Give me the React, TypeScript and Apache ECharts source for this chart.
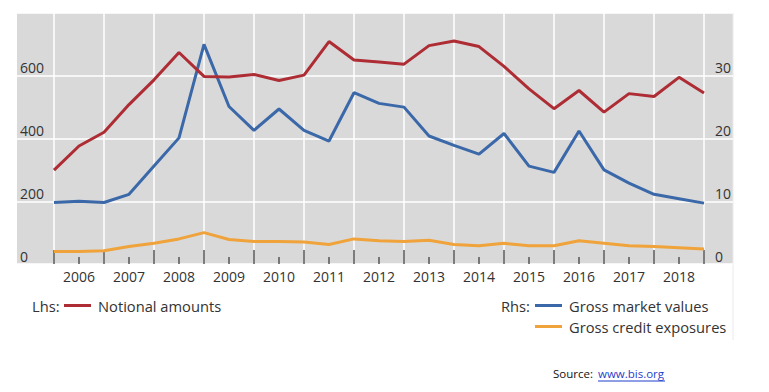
import React, { useEffect, useRef } from "react";
import * as echarts from "echarts";

const periods = [
  "2005-12", "2006-06", "2006-12", "2007-06", "2007-12", "2008-06", "2008-12",
  "2009-06", "2009-12", "2010-06", "2010-12", "2011-06", "2011-12", "2012-06",
  "2012-12", "2013-06", "2013-12", "2014-06", "2014-12", "2015-06", "2015-12",
  "2016-06", "2016-12", "2017-06", "2017-12", "2018-06", "2018-12",
];

// Lhs: notional amounts
const notionalAmounts = [
  299, 376, 420, 508, 587, 674, 598, 596, 604, 585, 602, 709, 650, 644, 637,
  696, 711, 693, 630, 558, 495, 553, 484, 543, 534, 595, 545,
];

// Rhs: gross market values
const grossMarketValues = [
  9.8, 10.0, 9.8, 11.1, 15.6, 20.1, 35.0, 25.1, 21.3, 24.7, 21.3, 19.6, 27.3,
  25.6, 25.0, 20.4, 18.9, 17.5, 20.8, 15.6, 14.6, 21.2, 15.0, 12.9, 11.1, 10.4, 9.7,
];

// Rhs: gross credit exposures
const grossCreditExposures = [
  2.0, 2.0, 2.1, 2.8, 3.3, 4.0, 5.0, 3.9, 3.6, 3.6, 3.5, 3.1, 4.0, 3.7, 3.6,
  3.8, 3.1, 2.9, 3.3, 2.9, 2.9, 3.7, 3.3, 2.9, 2.8, 2.6, 2.4,
];

const lhsTicks = { min: 0, max: 800, interval: 200 };
const rhsTicks = { min: 0, max: 40, interval: 10 };

const FONT = "'Open Sans', sans-serif";
const TEXT = "#333333";
const RED = "#AE2D35";
const BLUE = "#3A68A8";
const ORANGE = "#EFA33A";
const LEGEND_FS = 14.7;

export default function App() {
  const ref = useRef<HTMLDivElement>(null);

  useEffect(() => {
    if (!ref.current) return;
    const chart = echarts.init(ref.current, undefined, { renderer: "svg" });
    const option: any = {
      animation: false,
      textStyle: { fontFamily: FONT },
      grid: [
        { left: 54, right: 65, top: 13, bottom: 128 },
        {
          left: 17, right: 36, top: 13, bottom: 128,
          show: true, backgroundColor: "#D9D9D9", borderWidth: 0, z: -1,
        },
      ],
      xAxis: [
        {
          type: "category",
          gridIndex: 0,
          data: periods,
          boundaryGap: false,
          axisLine: { show: false },
          axisTick: {
            show: true, inside: true, length: 14,
            interval: (i: number) => i % 2 === 0,
            lineStyle: { color: "#555", width: 1.5 },
          },
          axisLabel: {
            interval: (i: number) => i % 2 === 1,
            formatter: (v: string) => v.slice(0, 4),
            color: TEXT, fontSize: 14, fontFamily: FONT, margin: 5,
          },
          splitLine: {
            show: true,
            interval: (i: number) => i % 2 === 0,
            lineStyle: { color: "#FFFFFF", width: 1.5 },
          },
        },
        {
          type: "category",
          gridIndex: 0,
          data: periods,
          boundaryGap: false,
          position: "bottom",
          axisLine: { show: false },
          axisTick: {
            show: true, inside: true, length: 7,
            interval: (i: number) => i % 2 === 1,
            lineStyle: { color: "#555", width: 1.5 },
          },
          axisLabel: { show: false },
          splitLine: { show: false },
        },
        { type: "value", gridIndex: 1, show: false, min: 0, max: 1 },
      ],
      yAxis: [
        {
          type: "value",
          gridIndex: 0,
          position: "left",
          ...lhsTicks,
          axisLine: { show: false },
          axisTick: { show: false },
          splitLine: { show: false },
          axisLabel: {
            showMaxLabel: false,
            align: "left",
            verticalAlign: "bottom",
            margin: 34,
            padding: [0, 0, 1, 0],
            color: TEXT, fontSize: 14, fontFamily: FONT,
          },
        },
        {
          type: "value",
          gridIndex: 0,
          position: "right",
          ...rhsTicks,
          axisLine: { show: false },
          axisTick: { show: false },
          splitLine: { show: false },
          axisLabel: {
            showMaxLabel: false,
            align: "left",
            verticalAlign: "bottom",
            margin: 11,
            padding: [0, 0, 1, 0],
            color: TEXT, fontSize: 14, fontFamily: FONT,
          },
        },
        {
          type: "value",
          gridIndex: 1,
          ...lhsTicks,
          axisLine: { show: false },
          axisTick: { show: false },
          axisLabel: { show: false },
          splitLine: { show: true, lineStyle: { color: "#FFFFFF", width: 1.5 } },
        },
      ],
      legend: [
        {
          data: ["Notional amounts"],
          left: 64, top: 297, padding: 0,
          icon: "rect", itemWidth: 27, itemHeight: 3,
          textStyle: {
            color: TEXT, fontSize: LEGEND_FS, fontFamily: FONT, lineHeight: 17,
            padding: [0, 0, 0, 2],
          },
        },
        {
          data: ["Gross market values", "Gross credit exposures"],
          orient: "vertical",
          left: 535, top: 297, itemGap: 4, padding: 0,
          icon: "rect", itemWidth: 27, itemHeight: 3,
          textStyle: {
            color: TEXT, fontSize: LEGEND_FS, fontFamily: FONT, lineHeight: 17,
            padding: [0, 0, 0, 2],
          },
        },
      ],
      series: [
        {
          name: "Gross credit exposures", type: "line",
          xAxisIndex: 0, yAxisIndex: 1, data: grossCreditExposures,
          symbol: "none", lineStyle: { color: ORANGE, width: 3 }, itemStyle: { color: ORANGE },
        },
        {
          name: "Gross market values", type: "line",
          xAxisIndex: 0, yAxisIndex: 1, data: grossMarketValues,
          symbol: "none", lineStyle: { color: BLUE, width: 3 }, itemStyle: { color: BLUE },
        },
        {
          name: "Notional amounts", type: "line",
          xAxisIndex: 0, yAxisIndex: 0, data: notionalAmounts,
          symbol: "none", lineStyle: { color: RED, width: 3 }, itemStyle: { color: RED },
        },
      ],
      graphic: [
        {
          type: "line", silent: true,
          shape: { x1: 733, y1: 13, x2: 733, y2: 340 },
          style: { stroke: "#EAEAEA", lineWidth: 1 },
        },
        {
          type: "text", x: 32, y: 306,
          style: { text: "Lhs:", fill: TEXT, font: `${LEGEND_FS}px ${FONT}`, verticalAlign: "middle" },
        },
        {
          type: "text", x: 501, y: 306,
          style: { text: "Rhs:", fill: TEXT, font: `${LEGEND_FS}px ${FONT}`, verticalAlign: "middle" },
        },
        {
          type: "text", x: 553, y: 373,
          style: { text: "Source:", fill: "#111", font: `11.5px ${FONT}`, verticalAlign: "middle" },
        },
        {
          type: "text", x: 598, y: 373,
          style: { text: "www.bis.org", fill: "#1F3FCC", font: `11.5px ${FONT}`, verticalAlign: "middle" },
        },
        {
          type: "line", silent: true,
          shape: { x1: 598, y1: 381, x2: 665, y2: 381 },
          style: { stroke: "#1F3FCC", lineWidth: 1 },
        },
      ],
    };
    chart.setOption(option);
    return () => chart.dispose();
  }, []);

  return (
    <div
      ref={ref}
      style={{ position: "fixed", left: 0, top: 0, width: 769, height: 392, background: "#fff" }}
    />
  );
}
